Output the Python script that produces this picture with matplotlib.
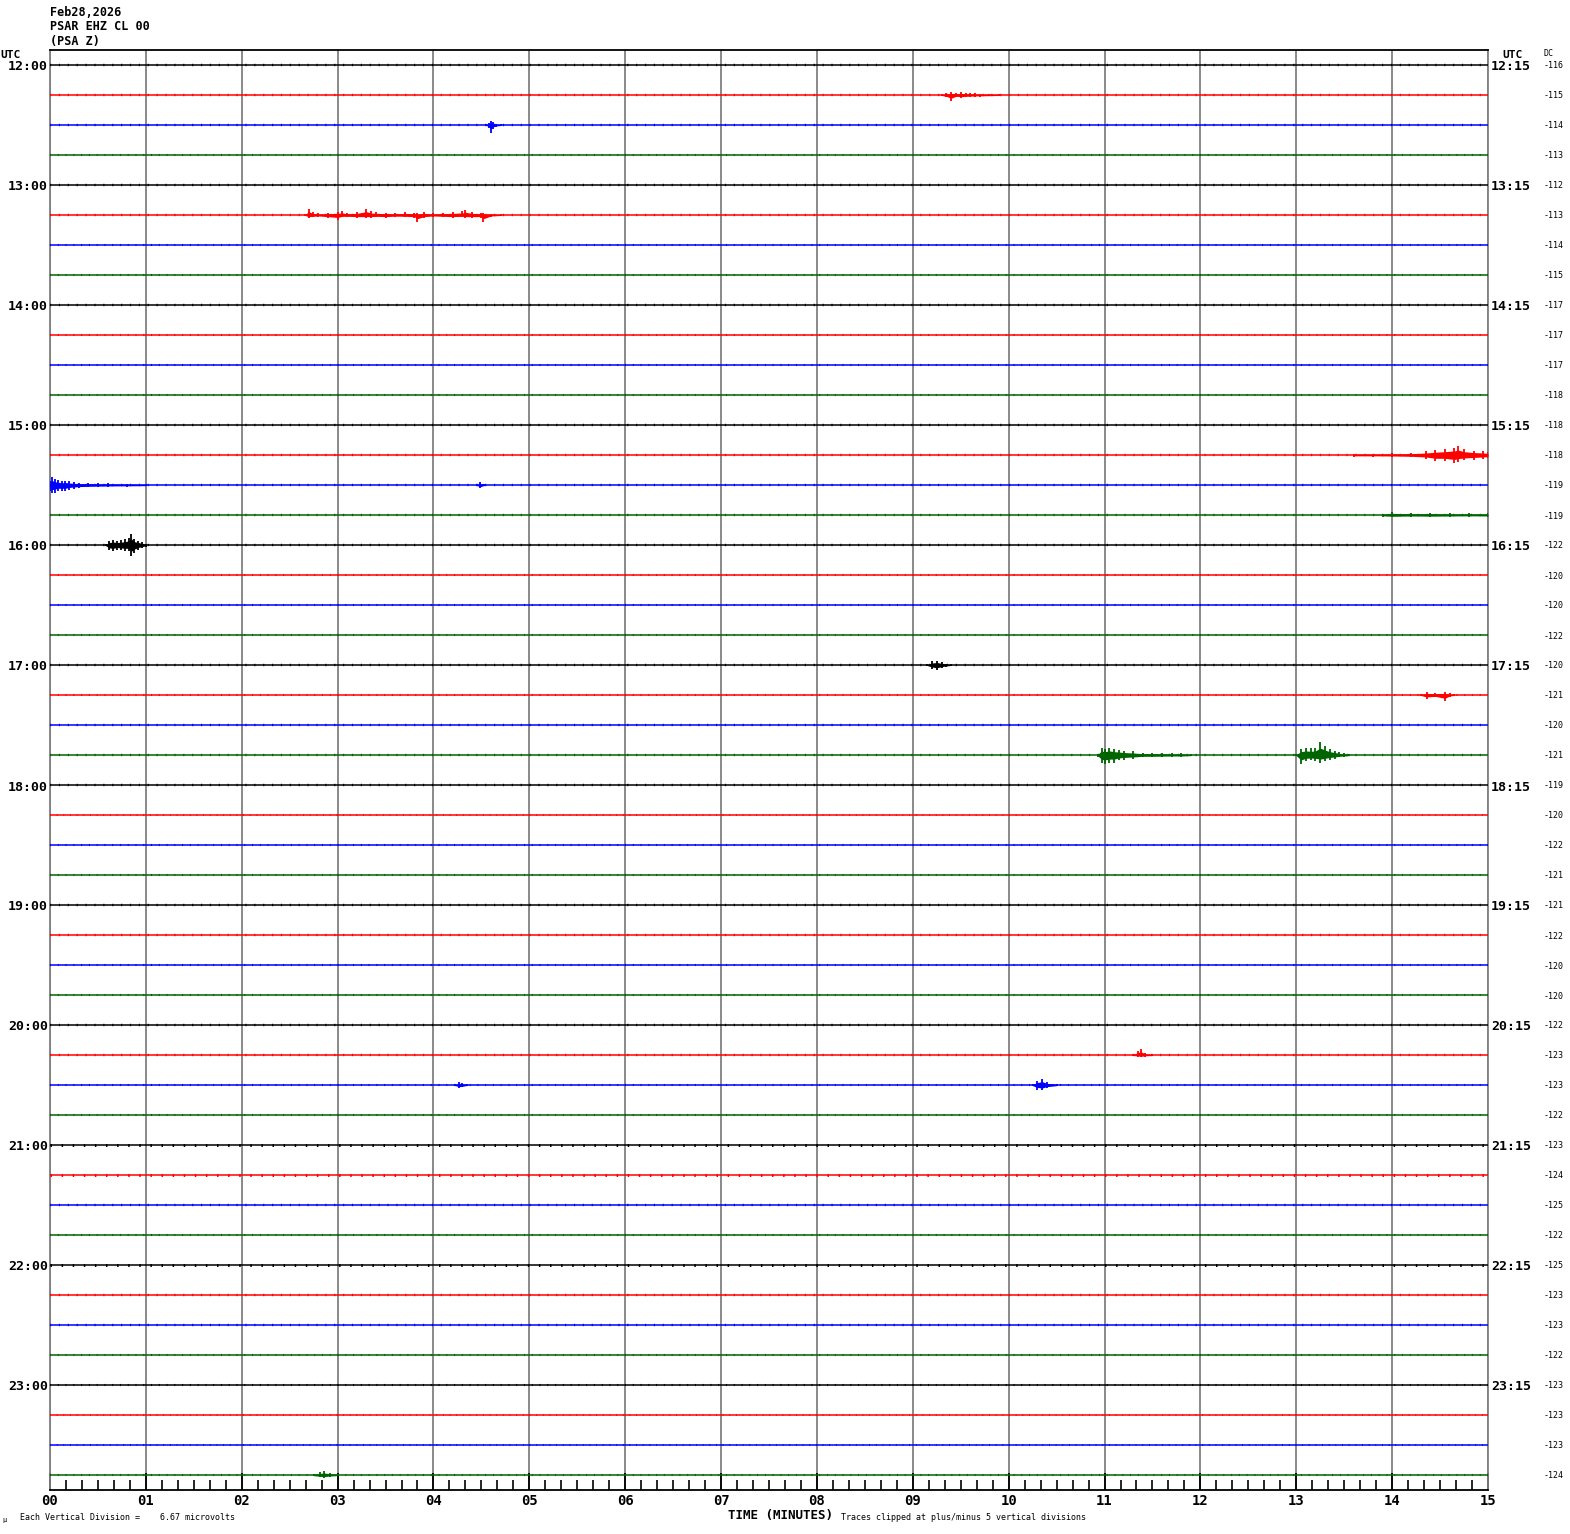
import matplotlib
matplotlib.use("Agg")
import matplotlib.pyplot as plt
import numpy as np

# ---------------- data ----------------
title_lines = ["Feb28,2026", "PSAR EHZ CL 00", "(PSA Z)"]
left_hours = ["12:00", "13:00", "14:00", "15:00", "16:00", "17:00",
              "18:00", "19:00", "20:00", "21:00", "22:00", "23:00"]
right_hours = ["12:15", "13:15", "14:15", "15:15", "16:15", "17:15",
               "18:15", "19:15", "20:15", "21:15", "22:15", "23:15"]
dc_values = [-116, -115, -114, -113, -112, -113, -114, -115,
             -117, -117, -117, -118, -118, -118, -119, -119,
             -122, -120, -120, -122, -120, -121, -120, -121,
             -119, -120, -122, -121, -121, -122, -120, -120,
             -122, -123, -123, -122, -123, -124, -125, -122,
             -125, -123, -123, -122, -123, -123, -123, -124]
trace_colors = ["black", "red", "blue", "#006400"]
x_tick_labels = ["00", "01", "02", "03", "04", "05", "06", "07",
                 "08", "09", "10", "11", "12", "13", "14", "15"]

# background noise half-amplitude per trace (fraction of trace spacing)
noise_amp = [0.04, 0.04, 0.04, 0.035, 0.04, 0.04, 0.035, 0.035,
             0.04, 0.035, 0.035, 0.035, 0.04, 0.04, 0.04, 0.04,
             0.04, 0.035, 0.035, 0.035, 0.04, 0.035, 0.04, 0.04,
             0.04, 0.03, 0.035, 0.035, 0.04, 0.04, 0.035, 0.035,
             0.04, 0.04, 0.035, 0.035, 0.05, 0.05, 0.04, 0.035,
             0.05, 0.04, 0.04, 0.035, 0.035, 0.03, 0.03, 0.035]

# events: (trace index, times [min], upward envelope, downward envelope)
ev_row = [1, 2, 5, 13, 14, 14, 15, 16, 20, 21, 23, 23, 33, 34, 34, 47]
ev_t = [
    [9.30, 9.35, 9.40, 9.45, 9.50, 9.55, 9.60, 9.65, 9.70, 9.80, 9.90],
    [4.55, 4.58, 4.60, 4.62, 4.65, 4.70],
    [2.66, 2.70, 2.74, 2.80, 2.90, 3.00, 3.05, 3.10, 3.20, 3.30, 3.35, 3.40, 3.50, 3.60,
     3.70, 3.80, 3.83, 3.90, 4.00, 4.10, 4.20, 4.30, 4.33, 4.40, 4.50, 4.52, 4.60, 4.70],
    [13.6, 13.8, 14.0, 14.2, 14.35, 14.45, 14.55, 14.65, 14.69, 14.75, 14.85, 14.95, 15.0],
    [0.0, 0.02, 0.05, 0.08, 0.12, 0.16, 0.20, 0.25, 0.30, 0.40, 0.50, 0.60, 0.80, 1.00],
    [4.45, 4.49, 4.53],
    [13.9, 14.0, 14.2, 14.4, 14.6, 14.8, 15.0],
    [0.58, 0.62, 0.66, 0.70, 0.74, 0.78, 0.82, 0.85, 0.88, 0.92, 0.96, 1.00],
    [9.15, 9.20, 9.25, 9.30, 9.35, 9.40],
    [14.30, 14.36, 14.45, 14.55, 14.60, 14.65],
    [10.93, 10.97, 11.00, 11.05, 11.10, 11.15, 11.20, 11.30, 11.40, 11.50, 11.60, 11.70, 11.80, 11.90],
    [13.00, 13.05, 13.10, 13.15, 13.20, 13.25, 13.30, 13.35, 13.40, 13.45, 13.50, 13.55],
    [11.30, 11.35, 11.38, 11.42, 11.50],
    [4.22, 4.27, 4.30, 4.35],
    [10.25, 10.30, 10.35, 10.40, 10.50],
    [2.75, 2.82, 2.86, 2.92, 3.00],
]
ev_up = [
    [0.03, 0.06, 0.10, 0.08, 0.10, 0.07, 0.08, 0.06, 0.05, 0.04, 0.03],
    [0.03, 0.08, 0.14, 0.10, 0.05, 0.03],
    [0.03, 0.20, 0.10, 0.06, 0.08, 0.10, 0.12, 0.08, 0.10, 0.20, 0.12, 0.10, 0.08, 0.07,
     0.10, 0.08, 0.06, 0.10, 0.06, 0.08, 0.10, 0.12, 0.17, 0.10, 0.08, 0.06, 0.05, 0.03],
    [0.05, 0.05, 0.06, 0.08, 0.12, 0.17, 0.20, 0.25, 0.30, 0.20, 0.15, 0.12, 0.10],
    [0.15, 0.27, 0.20, 0.17, 0.13, 0.15, 0.12, 0.10, 0.08, 0.08, 0.06, 0.06, 0.05, 0.04],
    [0.03, 0.10, 0.03],
    [0.05, 0.10, 0.07, 0.08, 0.06, 0.06, 0.06],
    [0.04, 0.15, 0.18, 0.15, 0.17, 0.20, 0.25, 0.37, 0.20, 0.15, 0.10, 0.05],
    [0.03, 0.12, 0.15, 0.10, 0.05, 0.03],
    [0.03, 0.10, 0.08, 0.10, 0.06, 0.03],
    [0.05, 0.25, 0.20, 0.25, 0.20, 0.18, 0.15, 0.12, 0.08, 0.08, 0.07, 0.06, 0.06, 0.04],
    [0.04, 0.20, 0.25, 0.22, 0.25, 0.42, 0.30, 0.20, 0.15, 0.10, 0.06, 0.04],
    [0.03, 0.15, 0.20, 0.08, 0.03],
    [0.03, 0.10, 0.08, 0.03],
    [0.04, 0.15, 0.20, 0.10, 0.04],
    [0.04, 0.10, 0.12, 0.08, 0.04],
]
ev_down = [
    [0.03, 0.08, 0.20, 0.08, 0.10, 0.08, 0.07, 0.06, 0.05, 0.04, 0.03],
    [0.03, 0.10, 0.27, 0.12, 0.06, 0.03],
    [0.03, 0.10, 0.08, 0.06, 0.10, 0.15, 0.08, 0.08, 0.10, 0.10, 0.10, 0.08, 0.10, 0.07,
     0.08, 0.10, 0.23, 0.10, 0.06, 0.08, 0.10, 0.08, 0.10, 0.10, 0.10, 0.23, 0.06, 0.03],
    [0.05, 0.05, 0.06, 0.08, 0.12, 0.20, 0.20, 0.27, 0.22, 0.18, 0.15, 0.12, 0.10],
    [0.20, 0.28, 0.25, 0.20, 0.20, 0.20, 0.15, 0.12, 0.10, 0.08, 0.07, 0.06, 0.05, 0.04],
    [0.03, 0.10, 0.03],
    [0.05, 0.08, 0.06, 0.07, 0.06, 0.05, 0.06],
    [0.04, 0.18, 0.20, 0.15, 0.18, 0.20, 0.20, 0.37, 0.25, 0.15, 0.10, 0.05],
    [0.03, 0.12, 0.17, 0.10, 0.05, 0.03],
    [0.03, 0.12, 0.08, 0.20, 0.06, 0.03],
    [0.05, 0.27, 0.30, 0.25, 0.25, 0.18, 0.15, 0.12, 0.08, 0.08, 0.07, 0.06, 0.06, 0.04],
    [0.04, 0.30, 0.20, 0.18, 0.20, 0.25, 0.20, 0.15, 0.12, 0.08, 0.06, 0.04],
    [0.03, 0.06, 0.08, 0.05, 0.03],
    [0.03, 0.10, 0.08, 0.03],
    [0.04, 0.15, 0.18, 0.10, 0.04],
    [0.04, 0.08, 0.10, 0.06, 0.04],
]

# ---------------- figure ----------------
W, H = 1570, 1534
fig = plt.figure(figsize=(W / 100, H / 100), dpi=100)
L, R, T, B = 50, 1488, 50, 1490
ax = fig.add_axes([L / W, 1 - B / H, (R - L) / W, (B - T) / H])
n_traces = len(dc_values)
ax.set_xlim(0, 15)
ax.set_ylim(n_traces, 0)

row_px = (B - T) / n_traces
px2pt = 72 / 100

mono = "DejaVu Sans Mono"

# grid lines every minute
for m in range(0, 16):
    ax.axvline(m, color="#808080", lw=1.3, zorder=1)

for i in range(n_traces):
    y = i + 0.5
    c = trace_colors[i % 4]
    ax.plot([0, 15], [y, y], color=c, lw=1.1, zorder=3, solid_capstyle="butt")
    # background jitter as short vertical ticks
    ax.plot([0, 15], [y, y], color=c, lw=2 * noise_amp[i] * row_px * px2pt,
            linestyle=(0, (0.5, 3.2)), zorder=3, solid_capstyle="butt", dash_capstyle="butt")

for r, t, up, dn in zip(ev_row, ev_t, ev_up, ev_down):
    y = r + 0.5
    c = trace_colors[r % 4]
    t = np.array(t)
    up = np.array(up)
    dn = np.array(dn)
    ax.fill_between(t, y - 0.55 * up, y + 0.55 * dn, color=c, lw=0, zorder=4)
    ax.vlines(t, y - up, y + dn, color=c, lw=1.3, zorder=4)

# spines
for s in ["left", "right"]:
    ax.spines[s].set_color("#808080")
    ax.spines[s].set_linewidth(1.3)
for s in ["top", "bottom"]:
    ax.spines[s].set_color("black")
    ax.spines[s].set_linewidth(1.3)

ax.set_yticks([])
ax.set_xticks(range(16))
ax.set_xticklabels(x_tick_labels, fontfamily=mono, fontweight="bold", fontsize=10)
ax.set_xticks(np.arange(0, 15.01, 1 / 6), minor=True)
ax.tick_params(axis="x", which="major", direction="in", length=12, width=1.3, pad=3)
ax.tick_params(axis="x", which="minor", direction="in", length=7, width=1.2)

# text
def px(x, y):
    return x / W, 1 - y / H

for k, s in enumerate(title_lines):
    fig.text(*px(50, 12 + 15 * k), s, fontfamily=mono, fontsize=8.5, fontweight="bold",
             va="center", ha="left")

fig.text(*px(0, 55), "UTC", fontfamily=mono, fontsize=8, fontweight="bold", va="center", ha="left")
fig.text(*px(1502, 55), "UTC", fontfamily=mono, fontsize=8, fontweight="bold", va="center", ha="left")
fig.text(*px(1544, 53), "DC", fontfamily=mono, fontsize=6, va="center", ha="left")

for k, s in enumerate(left_hours):
    y = T + row_px * (4 * k + 0.5)
    fig.text(*px(48, y + 2), s, fontfamily=mono, fontsize=9.5, fontweight="bold",
             va="center", ha="right")
    fig.text(*px(1491, y + 2), right_hours[k], fontfamily=mono, fontsize=9.5, fontweight="bold",
             va="center", ha="left")

for i, v in enumerate(dc_values):
    y = T + row_px * (i + 0.5)
    fig.text(*px(1544, y + 1), str(v), fontfamily=mono, fontsize=6, va="center", ha="left")

fig.text(*px(781, 1516), "TIME (MINUTES)", fontfamily=mono, fontsize=9, fontweight="bold",
         va="center", ha="center")
fig.text(*px(841, 1518), "Traces clipped at plus/minus 5 vertical divisions", fontfamily=mono,
         fontsize=6, va="center", ha="left")
fig.text(*px(20, 1518), "Each Vertical Division =    6.67 microvolts", fontfamily=mono,
         fontsize=6, va="center", ha="left")
fig.text(*px(2, 1520), "\u00b5", fontfamily=mono, fontsize=5, va="center", ha="left")

fig.savefig("out.png", dpi=100, facecolor="white")
